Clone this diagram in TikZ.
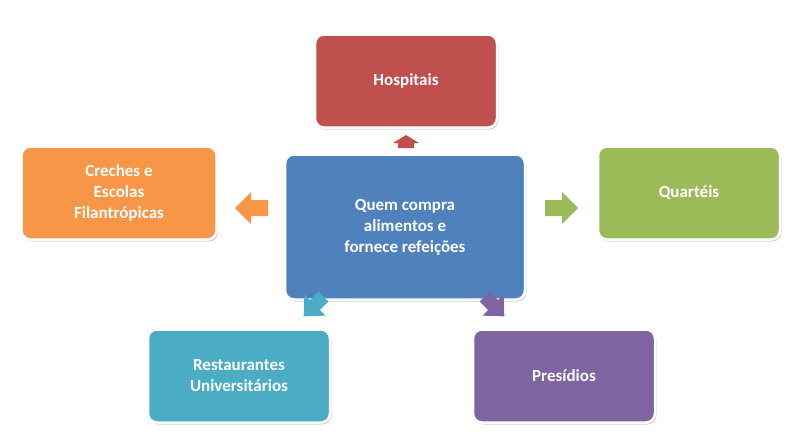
\documentclass[tikz,border=0pt]{standalone}
\usepackage{fontspec}
\setmainfont{Carlito}
\usetikzlibrary{shadows}
\definecolor{cred}{HTML}{C0504D}
\definecolor{cgreen}{HTML}{9BBB59}
\definecolor{cpurple}{HTML}{8064A2}
\definecolor{cteal}{HTML}{4BACC6}
\definecolor{corange}{HTML}{F79646}
\definecolor{cblue}{HTML}{4F81BD}
\tikzset{
  box/.style={draw=white, line width=2.5pt, rounded corners=9pt, text=white,
    font=\bfseries\fontsize{17}{21}\selectfont, align=center,
    drop shadow={shadow xshift=1.5pt, shadow yshift=-2pt, opacity=0.35}},
  barrow/.style={draw=none}
}
\begin{document}
\begin{tikzpicture}[x=1pt,y=-1pt]
\useasboundingbox (0,0) rectangle (806,440);
\node[box, fill=cblue, minimum width=240pt, minimum height=145pt] (c) at (405,227) {Quem compra\\alimentos e\\fornece refeições};
\node[box, fill=cred, minimum width=182pt, minimum height=93pt] (h) at (406,81) {Hospitais};
\node[box, fill=cgreen, minimum width=182pt, minimum height=93pt] (q) at (689,193) {Quartéis};
\node[box, fill=cpurple, minimum width=182pt, minimum height=93pt] (p) at (564,376) {Presídios};
\node[box, fill=cteal, minimum width=182pt, minimum height=93pt] (r) at (239,376) {Restaurantes\\Universitários};
\node[box, fill=corange, minimum width=195pt, minimum height=93pt] (e) at (119,193) {Creches e\\Escolas\\Filantrópicas};
% block arrows
\fill[cred] (398,148) -- (398,143) -- (393,143) -- (406,135) -- (419,143) -- (414,143) -- (414,148) -- cycle;
\fill[cgreen] (545,200) -- (562,200) -- (562,192) -- (578,208) -- (562,224) -- (562,216) -- (545,216) -- cycle;
\fill[corange] (268,200) -- (251,200) -- (251,192) -- (235,208) -- (251,224) -- (251,216) -- (268,216) -- cycle;
\fill[cteal, rotate around={45:(315,305)}] (327,298) -- (315,298) -- (315,290) -- (299,305) -- (315,320) -- (315,312) -- (327,312) -- cycle;
\fill[cpurple, rotate around={-45:(493,305)}] (481,298) -- (493,298) -- (493,290) -- (509,305) -- (493,320) -- (493,312) -- (481,312) -- cycle;
\end{tikzpicture}
\end{document}
